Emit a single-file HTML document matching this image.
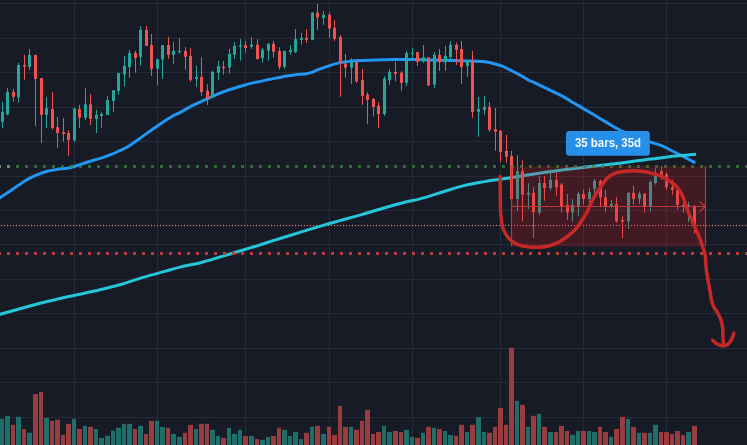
<!DOCTYPE html><html><head><meta charset="utf-8"><style>html,body{margin:0;padding:0;background:#171b26;overflow:hidden}svg{display:block}</style></head><body><svg width="747" height="445" viewBox="0 0 747 445">
<g style="filter:blur(0.35px)">
<rect x="-6" y="-6" width="759" height="457" fill="#171b26"/>
<g fill="#272b37"><rect x="-6" y="3" width="759" height="1"/><rect x="-6" y="38" width="759" height="1"/><rect x="-6" y="72" width="759" height="1"/><rect x="-6" y="107" width="759" height="1"/><rect x="-6" y="141" width="759" height="1"/><rect x="-6" y="176" width="759" height="1"/><rect x="-6" y="210" width="759" height="1"/><rect x="-6" y="244" width="759" height="1"/><rect x="-6" y="279" width="759" height="1"/><rect x="-6" y="313" width="759" height="1"/><rect x="-6" y="348" width="759" height="1"/><rect x="-6" y="382" width="759" height="1"/><rect x="-6" y="417" width="759" height="1"/><rect x="74" y="-6" width="1" height="457"/><rect x="157" y="-6" width="1" height="457"/><rect x="245" y="-6" width="1" height="457"/><rect x="329" y="-6" width="1" height="457"/><rect x="412" y="-6" width="1" height="457"/><rect x="500" y="-6" width="1" height="457"/><rect x="583" y="-6" width="1" height="457"/><rect x="666" y="-6" width="1" height="457"/></g>
<rect x="0" y="418.9" width="4" height="32.1" fill="#1f6e6a"/>
<rect x="5" y="415.8" width="5" height="35.2" fill="#1f6e6a"/>
<rect x="11" y="424.8" width="4" height="26.2" fill="#983c40"/>
<rect x="16" y="416.8" width="5" height="34.2" fill="#1f6e6a"/>
<rect x="22" y="429.0" width="4" height="22.0" fill="#983c40"/>
<rect x="27" y="432.7" width="5" height="18.3" fill="#1f6e6a"/>
<rect x="33" y="394.1" width="5" height="56.9" fill="#983c40"/>
<rect x="39" y="391.9" width="4" height="59.1" fill="#983c40"/>
<rect x="44" y="417.7" width="5" height="33.3" fill="#1f6e6a"/>
<rect x="50" y="420.9" width="4" height="30.1" fill="#983c40"/>
<rect x="55" y="419.7" width="5" height="31.3" fill="#983c40"/>
<rect x="61" y="434.9" width="4" height="16.1" fill="#983c40"/>
<rect x="66" y="423.9" width="5" height="27.1" fill="#983c40"/>
<rect x="72" y="418.9" width="4" height="32.1" fill="#1f6e6a"/>
<rect x="77" y="429.0" width="5" height="22.0" fill="#983c40"/>
<rect x="83" y="425.9" width="4" height="25.1" fill="#1f6e6a"/>
<rect x="88" y="426.9" width="5" height="24.1" fill="#983c40"/>
<rect x="94" y="429.0" width="4" height="22.0" fill="#1f6e6a"/>
<rect x="99" y="437.9" width="5" height="13.1" fill="#1f6e6a"/>
<rect x="105" y="435.7" width="5" height="15.3" fill="#1f6e6a"/>
<rect x="111" y="430.6" width="4" height="20.4" fill="#1f6e6a"/>
<rect x="116" y="427.8" width="5" height="23.2" fill="#1f6e6a"/>
<rect x="122" y="423.9" width="4" height="27.1" fill="#1f6e6a"/>
<rect x="127" y="423.9" width="5" height="27.1" fill="#1f6e6a"/>
<rect x="133" y="429.0" width="4" height="22.0" fill="#983c40"/>
<rect x="138" y="425.9" width="5" height="25.1" fill="#1f6e6a"/>
<rect x="144" y="434.0" width="4" height="17.0" fill="#983c40"/>
<rect x="149" y="420.9" width="5" height="30.1" fill="#983c40"/>
<rect x="155" y="420.9" width="4" height="30.1" fill="#1f6e6a"/>
<rect x="160" y="426.9" width="5" height="24.1" fill="#1f6e6a"/>
<rect x="166" y="427.8" width="4" height="23.2" fill="#983c40"/>
<rect x="171" y="434.0" width="5" height="17.0" fill="#1f6e6a"/>
<rect x="177" y="436.9" width="5" height="14.1" fill="#1f6e6a"/>
<rect x="183" y="432.8" width="4" height="18.2" fill="#983c40"/>
<rect x="188" y="424.9" width="5" height="26.1" fill="#983c40"/>
<rect x="194" y="429.0" width="4" height="22.0" fill="#1f6e6a"/>
<rect x="199" y="423.9" width="5" height="27.1" fill="#983c40"/>
<rect x="205" y="423.9" width="4" height="27.1" fill="#983c40"/>
<rect x="210" y="429.8" width="5" height="21.2" fill="#1f6e6a"/>
<rect x="216" y="435.7" width="4" height="15.3" fill="#1f6e6a"/>
<rect x="221" y="437.9" width="5" height="13.1" fill="#983c40"/>
<rect x="227" y="427.8" width="4" height="23.2" fill="#1f6e6a"/>
<rect x="232" y="434.0" width="5" height="17.0" fill="#1f6e6a"/>
<rect x="238" y="429.8" width="4" height="21.2" fill="#1f6e6a"/>
<rect x="243" y="436.0" width="5" height="15.0" fill="#983c40"/>
<rect x="249" y="436.0" width="5" height="15.0" fill="#1f6e6a"/>
<rect x="255" y="439.1" width="4" height="11.9" fill="#983c40"/>
<rect x="260" y="439.9" width="5" height="11.1" fill="#1f6e6a"/>
<rect x="266" y="436.9" width="4" height="14.1" fill="#1f6e6a"/>
<rect x="271" y="436.0" width="5" height="15.0" fill="#983c40"/>
<rect x="277" y="427.8" width="4" height="23.2" fill="#983c40"/>
<rect x="282" y="429.8" width="5" height="21.2" fill="#1f6e6a"/>
<rect x="288" y="436.0" width="4" height="15.0" fill="#1f6e6a"/>
<rect x="293" y="432.0" width="5" height="19.0" fill="#1f6e6a"/>
<rect x="299" y="439.1" width="4" height="11.9" fill="#1f6e6a"/>
<rect x="304" y="432.8" width="5" height="18.2" fill="#983c40"/>
<rect x="310" y="426.9" width="4" height="24.1" fill="#1f6e6a"/>
<rect x="315" y="425.9" width="5" height="25.1" fill="#983c40"/>
<rect x="321" y="434.0" width="5" height="17.0" fill="#1f6e6a"/>
<rect x="327" y="426.9" width="4" height="24.1" fill="#983c40"/>
<rect x="332" y="434.9" width="5" height="16.1" fill="#983c40"/>
<rect x="338" y="405.9" width="4" height="45.1" fill="#983c40"/>
<rect x="343" y="426.9" width="5" height="24.1" fill="#983c40"/>
<rect x="349" y="426.9" width="4" height="24.1" fill="#1f6e6a"/>
<rect x="354" y="429.8" width="5" height="21.2" fill="#983c40"/>
<rect x="360" y="420.9" width="4" height="30.1" fill="#983c40"/>
<rect x="365" y="409.9" width="5" height="41.1" fill="#983c40"/>
<rect x="371" y="434.0" width="4" height="17.0" fill="#983c40"/>
<rect x="376" y="432.0" width="5" height="19.0" fill="#983c40"/>
<rect x="382" y="425.9" width="4" height="25.1" fill="#1f6e6a"/>
<rect x="387" y="432.0" width="5" height="19.0" fill="#1f6e6a"/>
<rect x="393" y="431.0" width="5" height="20.0" fill="#983c40"/>
<rect x="399" y="432.0" width="4" height="19.0" fill="#983c40"/>
<rect x="404" y="429.8" width="5" height="21.2" fill="#1f6e6a"/>
<rect x="410" y="436.9" width="4" height="14.1" fill="#1f6e6a"/>
<rect x="415" y="437.9" width="5" height="13.1" fill="#983c40"/>
<rect x="421" y="432.8" width="4" height="18.2" fill="#1f6e6a"/>
<rect x="426" y="426.9" width="5" height="24.1" fill="#983c40"/>
<rect x="432" y="427.8" width="4" height="23.2" fill="#1f6e6a"/>
<rect x="437" y="429.0" width="5" height="22.0" fill="#983c40"/>
<rect x="443" y="431.0" width="4" height="20.0" fill="#1f6e6a"/>
<rect x="448" y="434.9" width="5" height="16.1" fill="#1f6e6a"/>
<rect x="454" y="435.7" width="4" height="15.3" fill="#983c40"/>
<rect x="459" y="424.8" width="5" height="26.2" fill="#983c40"/>
<rect x="465" y="432.0" width="4" height="19.0" fill="#1f6e6a"/>
<rect x="470" y="424.8" width="5" height="26.2" fill="#983c40"/>
<rect x="476" y="417.2" width="5" height="33.8" fill="#1f6e6a"/>
<rect x="482" y="432.0" width="4" height="19.0" fill="#1f6e6a"/>
<rect x="487" y="432.8" width="5" height="18.2" fill="#983c40"/>
<rect x="493" y="426.9" width="4" height="24.1" fill="#983c40"/>
<rect x="498" y="407.9" width="5" height="43.1" fill="#983c40"/>
<rect x="504" y="424.8" width="4" height="26.2" fill="#983c40"/>
<rect x="509" y="347.8" width="5" height="103.2" fill="#983c40"/>
<rect x="515" y="400.8" width="4" height="50.2" fill="#1f6e6a"/>
<rect x="520" y="404.9" width="5" height="46.1" fill="#983c40"/>
<rect x="526" y="426.9" width="4" height="24.1" fill="#1f6e6a"/>
<rect x="531" y="415.8" width="5" height="35.2" fill="#983c40"/>
<rect x="537" y="413.8" width="4" height="37.2" fill="#1f6e6a"/>
<rect x="542" y="426.9" width="5" height="24.1" fill="#983c40"/>
<rect x="548" y="432.0" width="5" height="19.0" fill="#1f6e6a"/>
<rect x="554" y="432.0" width="4" height="19.0" fill="#983c40"/>
<rect x="559" y="425.9" width="5" height="25.1" fill="#983c40"/>
<rect x="565" y="431.0" width="4" height="20.0" fill="#983c40"/>
<rect x="570" y="434.9" width="5" height="16.1" fill="#1f6e6a"/>
<rect x="576" y="431.0" width="4" height="20.0" fill="#1f6e6a"/>
<rect x="581" y="431.0" width="5" height="20.0" fill="#983c40"/>
<rect x="587" y="431.0" width="4" height="20.0" fill="#1f6e6a"/>
<rect x="592" y="432.0" width="5" height="19.0" fill="#1f6e6a"/>
<rect x="598" y="426.9" width="4" height="24.1" fill="#983c40"/>
<rect x="603" y="432.0" width="5" height="19.0" fill="#983c40"/>
<rect x="609" y="436.9" width="4" height="14.1" fill="#1f6e6a"/>
<rect x="614" y="429.0" width="5" height="22.0" fill="#983c40"/>
<rect x="620" y="416.8" width="5" height="34.2" fill="#983c40"/>
<rect x="626" y="418.9" width="4" height="32.1" fill="#1f6e6a"/>
<rect x="631" y="426.9" width="5" height="24.1" fill="#983c40"/>
<rect x="637" y="432.8" width="4" height="18.2" fill="#1f6e6a"/>
<rect x="642" y="432.8" width="5" height="18.2" fill="#983c40"/>
<rect x="648" y="432.8" width="4" height="18.2" fill="#1f6e6a"/>
<rect x="653" y="424.8" width="5" height="26.2" fill="#1f6e6a"/>
<rect x="659" y="432.0" width="4" height="19.0" fill="#983c40"/>
<rect x="664" y="432.0" width="5" height="19.0" fill="#983c40"/>
<rect x="670" y="434.0" width="4" height="17.0" fill="#983c40"/>
<rect x="675" y="431.0" width="5" height="20.0" fill="#983c40"/>
<rect x="681" y="434.9" width="4" height="16.1" fill="#983c40"/>
<rect x="686" y="432.0" width="5" height="19.0" fill="#1f6e6a"/>
<rect x="692" y="425.9" width="5" height="25.1" fill="#983c40"/>
<line x1="0" y1="225.5" x2="753" y2="225.5" stroke="rgba(190,40,50,0.07)" stroke-width="3"/>
<line x1="1" y1="225.5" x2="753" y2="225.5" stroke="#d98b87" stroke-width="1" stroke-dasharray="1 2"/>
<path d="M-3.0 199.8 C-2.5 199.5 -2.1 199.1 0.0 197.7 C2.1 196.3 6.2 193.7 9.4 191.6 C12.6 189.5 15.7 187.1 18.9 185.0 C22.0 182.9 25.2 180.6 28.3 178.9 C31.4 177.2 34.6 175.9 37.7 174.6 C40.9 173.3 44.1 172.2 47.2 171.3 C50.4 170.4 53.2 169.9 56.6 169.4 C60.0 168.9 64.5 168.7 67.4 168.2 C70.3 167.7 70.7 167.5 74.1 166.5 C77.5 165.5 83.1 163.4 87.6 162.0 C92.1 160.6 97.4 159.3 101.1 158.1 C104.8 156.9 107.2 156.0 110.0 154.9 C112.8 153.8 115.2 152.8 118.0 151.5 C120.8 150.2 123.1 149.5 126.8 147.3 C130.5 145.1 135.1 141.8 140.3 138.1 C145.5 134.4 152.4 129.2 158.0 125.4 C163.6 121.6 170.3 117.4 174.0 115.3 C177.7 113.2 177.0 114.2 180.0 112.6 C183.0 111.0 188.0 107.8 192.1 105.7 C196.2 103.6 200.2 102.0 204.3 100.2 C208.4 98.4 212.4 96.4 216.4 94.7 C220.4 93.0 224.4 91.4 228.5 90.0 C232.6 88.6 236.6 87.5 240.7 86.3 C244.8 85.1 247.9 84.1 252.8 82.9 C257.7 81.7 265.1 80.3 270.0 79.3 C274.9 78.3 278.1 77.6 282.1 76.9 C286.2 76.2 290.2 75.4 294.3 74.9 C298.4 74.4 303.6 74.1 306.4 73.7 C309.2 73.3 309.3 73.2 311.3 72.5 C313.3 71.8 315.7 70.5 318.5 69.4 C321.3 68.3 325.1 67.1 328.3 66.1 C331.6 65.0 334.4 63.9 338.0 63.1 C341.6 62.3 346.4 61.7 350.1 61.2 C353.8 60.8 355.9 60.6 360.0 60.4 C364.1 60.2 369.0 60.2 375.0 60.1 C381.0 60.0 389.5 59.7 395.8 59.6 C402.1 59.5 407.0 59.6 412.6 59.6 C418.2 59.6 423.2 59.8 429.4 59.9 C435.6 60.0 444.9 60.2 450.0 60.4 C455.1 60.5 454.9 60.6 460.3 60.8 C465.7 61.0 476.9 61.0 482.2 61.4 C487.5 61.8 488.9 62.4 492.3 63.2 C495.7 64.0 499.3 65.0 502.4 66.2 C505.5 67.4 508.0 69.0 510.8 70.4 C513.6 71.8 516.1 72.9 519.2 74.6 C522.3 76.3 526.8 79.2 529.3 80.5 C531.8 81.8 530.9 81.0 533.9 82.4 C536.9 83.8 542.9 86.7 547.4 88.9 C551.9 91.1 556.4 93.0 560.9 95.4 C565.4 97.8 571.1 101.4 574.3 103.3 C577.5 105.2 577.3 105.0 580.0 106.6 C582.7 108.2 585.9 110.1 590.5 112.8 C595.1 115.5 602.3 120.0 607.4 122.9 C612.5 125.9 613.8 127.3 620.9 130.5 C628.0 133.7 643.0 139.3 649.8 141.8 C656.6 144.3 657.9 144.1 661.6 145.6 C665.4 147.1 668.7 149.2 672.3 151.0 C675.9 152.8 679.3 154.4 683.1 156.4 C686.9 158.4 693.3 161.8 695.3 162.9" fill="none" stroke="#2196f3" stroke-width="3" stroke-linecap="butt" stroke-linejoin="round"/>
<path d="M-3.0 315.3 C-2.5 315.1 -5.0 315.8 0.0 314.4 C5.0 313.0 18.0 309.1 27.0 306.7 C36.0 304.3 45.9 301.9 53.9 300.0 C61.9 298.1 67.1 297.0 74.8 295.3 C82.5 293.6 92.2 291.6 100.0 289.8 C107.8 288.0 114.4 286.4 121.6 284.3 C128.8 282.2 135.9 279.5 143.1 277.4 C150.3 275.2 158.5 273.1 164.7 271.4 C170.8 269.7 173.8 268.6 180.0 267.1 C186.2 265.6 193.9 264.4 202.2 262.2 C210.5 260.0 222.0 256.4 230.0 254.0 C238.0 251.6 245.0 249.4 250.0 247.9 C255.0 246.4 254.7 246.6 260.0 244.9 C265.3 243.2 274.4 240.2 281.6 238.0 C288.8 235.8 295.9 233.6 303.1 231.4 C310.3 229.2 318.6 226.7 324.7 224.9 C330.8 223.1 333.9 222.3 340.0 220.6 C346.1 218.9 354.4 216.7 361.6 214.6 C368.8 212.5 375.9 210.2 383.1 208.2 C390.3 206.1 398.6 203.9 404.7 202.3 C410.8 200.8 413.9 200.6 420.0 198.9 C426.1 197.2 434.4 194.5 441.6 192.3 C448.8 190.1 455.9 187.7 463.1 185.9 C470.3 184.1 478.8 182.7 484.7 181.6 C490.6 180.5 493.6 180.2 498.7 179.4 C503.8 178.6 508.3 178.1 515.3 177.0 C522.3 175.9 532.1 174.1 540.5 172.9 C548.9 171.7 557.4 170.7 565.8 169.6 C574.2 168.5 585.3 167.2 591.0 166.5 C596.7 165.8 592.9 166.5 600.0 165.6 C607.1 164.7 622.5 162.8 633.7 161.3 C644.9 159.9 657.0 158.1 667.4 156.9 C677.8 155.7 691.2 154.7 696.0 154.3" fill="none" stroke="#26c6da" stroke-width="3" stroke-linecap="butt" stroke-linejoin="round"/>
<rect x="2" y="102.1" width="1" height="25.8" fill="#26a69a"/>
<rect x="1" y="111.9" width="3" height="9.8" fill="#26a69a"/>
<rect x="7" y="88.1" width="1" height="27.2" fill="#26a69a"/>
<rect x="6" y="92.0" width="3" height="22.4" fill="#26a69a"/>
<rect x="13" y="89.0" width="1" height="12.7" fill="#ef5350"/>
<rect x="12" y="92.0" width="3" height="4.9" fill="#ef5350"/>
<rect x="18" y="62.9" width="1" height="39.6" fill="#26a69a"/>
<rect x="17" y="64.9" width="3" height="32.4" fill="#26a69a"/>
<rect x="24" y="54.9" width="1" height="24.8" fill="#ef5350"/>
<rect x="23" y="65.0" width="3" height="1.7" fill="#ef5350"/>
<rect x="29" y="48.9" width="1" height="21.0" fill="#26a69a"/>
<rect x="28" y="54.9" width="3" height="12.1" fill="#26a69a"/>
<rect x="35" y="54.9" width="1" height="71.0" fill="#ef5350"/>
<rect x="34" y="54.9" width="3" height="24.0" fill="#ef5350"/>
<rect x="41" y="78.0" width="1" height="65.1" fill="#ef5350"/>
<rect x="40" y="78.0" width="3" height="36.9" fill="#ef5350"/>
<rect x="46" y="97.1" width="1" height="30.8" fill="#26a69a"/>
<rect x="45" y="108.2" width="3" height="6.7" fill="#26a69a"/>
<rect x="52" y="92.0" width="1" height="37.6" fill="#ef5350"/>
<rect x="51" y="108.9" width="3" height="19.0" fill="#ef5350"/>
<rect x="57" y="117.0" width="1" height="31.1" fill="#ef5350"/>
<rect x="56" y="127.1" width="3" height="5.9" fill="#ef5350"/>
<rect x="63" y="118.1" width="1" height="23.6" fill="#ef5350"/>
<rect x="62" y="132.1" width="3" height="2.0" fill="#ef5350"/>
<rect x="68" y="130.1" width="1" height="25.6" fill="#ef5350"/>
<rect x="67" y="133.0" width="3" height="7.0" fill="#ef5350"/>
<rect x="74" y="107.7" width="1" height="34.2" fill="#26a69a"/>
<rect x="73" y="108.5" width="3" height="31.7" fill="#26a69a"/>
<rect x="79" y="104.8" width="1" height="23.1" fill="#ef5350"/>
<rect x="78" y="109.0" width="3" height="8.8" fill="#ef5350"/>
<rect x="85" y="88.1" width="1" height="31.9" fill="#26a69a"/>
<rect x="84" y="104.3" width="3" height="13.5" fill="#26a69a"/>
<rect x="90" y="94.2" width="1" height="30.8" fill="#ef5350"/>
<rect x="89" y="104.3" width="3" height="14.7" fill="#ef5350"/>
<rect x="96" y="109.9" width="1" height="23.1" fill="#26a69a"/>
<rect x="95" y="114.9" width="3" height="4.1" fill="#26a69a"/>
<rect x="101" y="111.9" width="1" height="15.7" fill="#26a69a"/>
<rect x="100" y="114.0" width="3" height="2.0" fill="#26a69a"/>
<rect x="107" y="96.1" width="1" height="18.8" fill="#26a69a"/>
<rect x="106" y="100.0" width="3" height="14.9" fill="#26a69a"/>
<rect x="113" y="90.2" width="1" height="21.7" fill="#26a69a"/>
<rect x="112" y="90.2" width="3" height="10.8" fill="#26a69a"/>
<rect x="118" y="73.0" width="1" height="21.9" fill="#26a69a"/>
<rect x="117" y="73.1" width="3" height="17.9" fill="#26a69a"/>
<rect x="124" y="55.9" width="1" height="30.6" fill="#26a69a"/>
<rect x="123" y="66.0" width="3" height="8.5" fill="#26a69a"/>
<rect x="129" y="50.0" width="1" height="27.7" fill="#26a69a"/>
<rect x="128" y="52.9" width="3" height="14.1" fill="#26a69a"/>
<rect x="135" y="50.9" width="1" height="21.8" fill="#ef5350"/>
<rect x="134" y="52.9" width="3" height="5.1" fill="#ef5350"/>
<rect x="140" y="26.0" width="1" height="39.7" fill="#26a69a"/>
<rect x="139" y="29.8" width="3" height="27.0" fill="#26a69a"/>
<rect x="146" y="26.0" width="1" height="19.8" fill="#ef5350"/>
<rect x="145" y="29.8" width="3" height="16.0" fill="#ef5350"/>
<rect x="151" y="34.0" width="1" height="41.8" fill="#ef5350"/>
<rect x="150" y="45.0" width="3" height="23.9" fill="#ef5350"/>
<rect x="157" y="58.8" width="1" height="26.0" fill="#26a69a"/>
<rect x="156" y="59.1" width="3" height="9.6" fill="#26a69a"/>
<rect x="162" y="45.0" width="1" height="33.8" fill="#26a69a"/>
<rect x="161" y="45.0" width="3" height="14.6" fill="#26a69a"/>
<rect x="168" y="36.9" width="1" height="21.9" fill="#ef5350"/>
<rect x="167" y="45.0" width="3" height="9.9" fill="#ef5350"/>
<rect x="173" y="42.0" width="1" height="21.8" fill="#26a69a"/>
<rect x="172" y="50.9" width="3" height="4.0" fill="#26a69a"/>
<rect x="179" y="38.1" width="1" height="15.6" fill="#26a69a"/>
<rect x="178" y="50.9" width="3" height="1.2" fill="#26a69a"/>
<rect x="185" y="47.0" width="1" height="22.8" fill="#ef5350"/>
<rect x="184" y="50.9" width="3" height="5.9" fill="#ef5350"/>
<rect x="190" y="47.9" width="1" height="33.8" fill="#ef5350"/>
<rect x="189" y="55.9" width="3" height="24.0" fill="#ef5350"/>
<rect x="196" y="65.9" width="1" height="20.9" fill="#26a69a"/>
<rect x="195" y="76.9" width="3" height="2.1" fill="#26a69a"/>
<rect x="201" y="57.1" width="1" height="38.8" fill="#ef5350"/>
<rect x="200" y="76.9" width="3" height="15.1" fill="#ef5350"/>
<rect x="207" y="84.1" width="1" height="20.9" fill="#ef5350"/>
<rect x="206" y="90.8" width="3" height="7.9" fill="#ef5350"/>
<rect x="212" y="71.0" width="1" height="26.9" fill="#26a69a"/>
<rect x="211" y="71.8" width="3" height="24.4" fill="#26a69a"/>
<rect x="218" y="60.9" width="1" height="18.8" fill="#26a69a"/>
<rect x="217" y="66.1" width="3" height="6.5" fill="#26a69a"/>
<rect x="223" y="60.9" width="1" height="13.7" fill="#ef5350"/>
<rect x="222" y="66.8" width="3" height="1.4" fill="#ef5350"/>
<rect x="229" y="48.9" width="1" height="24.6" fill="#26a69a"/>
<rect x="228" y="53.9" width="3" height="13.6" fill="#26a69a"/>
<rect x="234" y="42.1" width="1" height="16.9" fill="#26a69a"/>
<rect x="233" y="45.8" width="3" height="9.0" fill="#26a69a"/>
<rect x="240" y="39.1" width="1" height="21.5" fill="#26a69a"/>
<rect x="239" y="45.5" width="3" height="1.3" fill="#26a69a"/>
<rect x="245" y="40.9" width="1" height="11.8" fill="#ef5350"/>
<rect x="244" y="45.1" width="3" height="2.9" fill="#ef5350"/>
<rect x="251" y="37.1" width="1" height="11.8" fill="#26a69a"/>
<rect x="250" y="44.6" width="3" height="2.2" fill="#26a69a"/>
<rect x="257" y="39.1" width="1" height="20.7" fill="#ef5350"/>
<rect x="256" y="44.6" width="3" height="14.4" fill="#ef5350"/>
<rect x="262" y="48.0" width="1" height="14.7" fill="#26a69a"/>
<rect x="261" y="49.7" width="3" height="8.4" fill="#26a69a"/>
<rect x="268" y="43.0" width="1" height="17.6" fill="#26a69a"/>
<rect x="267" y="43.8" width="3" height="7.1" fill="#26a69a"/>
<rect x="273" y="40.9" width="1" height="16.9" fill="#ef5350"/>
<rect x="272" y="43.8" width="3" height="8.1" fill="#ef5350"/>
<rect x="279" y="47.2" width="1" height="22.4" fill="#ef5350"/>
<rect x="278" y="50.9" width="3" height="16.0" fill="#ef5350"/>
<rect x="284" y="50.9" width="1" height="17.8" fill="#26a69a"/>
<rect x="283" y="50.9" width="3" height="16.0" fill="#26a69a"/>
<rect x="290" y="45.0" width="1" height="9.8" fill="#26a69a"/>
<rect x="289" y="50.0" width="3" height="2.2" fill="#26a69a"/>
<rect x="295" y="29.0" width="1" height="24.0" fill="#26a69a"/>
<rect x="294" y="39.1" width="3" height="12.8" fill="#26a69a"/>
<rect x="301" y="32.9" width="1" height="11.7" fill="#26a69a"/>
<rect x="300" y="37.9" width="3" height="2.0" fill="#26a69a"/>
<rect x="306" y="29.0" width="1" height="14.0" fill="#ef5350"/>
<rect x="305" y="37.9" width="3" height="2.0" fill="#ef5350"/>
<rect x="312" y="12.0" width="1" height="28.2" fill="#26a69a"/>
<rect x="311" y="12.6" width="3" height="27.3" fill="#26a69a"/>
<rect x="317" y="3.7" width="1" height="26.3" fill="#ef5350"/>
<rect x="316" y="12.8" width="3" height="4.7" fill="#ef5350"/>
<rect x="323" y="10.9" width="1" height="14.0" fill="#26a69a"/>
<rect x="322" y="14.8" width="3" height="3.2" fill="#26a69a"/>
<rect x="329" y="12.6" width="1" height="25.3" fill="#ef5350"/>
<rect x="328" y="14.8" width="3" height="13.8" fill="#ef5350"/>
<rect x="334" y="19.9" width="1" height="21.0" fill="#ef5350"/>
<rect x="333" y="27.8" width="3" height="10.9" fill="#ef5350"/>
<rect x="340" y="35.0" width="1" height="61.8" fill="#ef5350"/>
<rect x="339" y="37.1" width="3" height="26.3" fill="#ef5350"/>
<rect x="345" y="54.0" width="1" height="23.8" fill="#ef5350"/>
<rect x="344" y="63.6" width="3" height="4.0" fill="#ef5350"/>
<rect x="351" y="58.1" width="1" height="25.6" fill="#26a69a"/>
<rect x="350" y="61.9" width="3" height="5.7" fill="#26a69a"/>
<rect x="356" y="61.9" width="1" height="21.0" fill="#ef5350"/>
<rect x="355" y="61.9" width="3" height="19.3" fill="#ef5350"/>
<rect x="362" y="68.9" width="1" height="35.9" fill="#ef5350"/>
<rect x="361" y="80.0" width="3" height="15.8" fill="#ef5350"/>
<rect x="367" y="92.1" width="1" height="31.7" fill="#ef5350"/>
<rect x="366" y="94.6" width="3" height="5.1" fill="#ef5350"/>
<rect x="373" y="98.0" width="1" height="18.6" fill="#ef5350"/>
<rect x="372" y="98.9" width="3" height="8.1" fill="#ef5350"/>
<rect x="378" y="102.2" width="1" height="25.6" fill="#ef5350"/>
<rect x="377" y="105.7" width="3" height="8.4" fill="#ef5350"/>
<rect x="384" y="76.1" width="1" height="39.9" fill="#26a69a"/>
<rect x="383" y="78.6" width="3" height="35.4" fill="#26a69a"/>
<rect x="389" y="69.0" width="1" height="15.9" fill="#26a69a"/>
<rect x="388" y="71.9" width="3" height="8.4" fill="#26a69a"/>
<rect x="395" y="61.8" width="1" height="19.4" fill="#ef5350"/>
<rect x="394" y="71.9" width="3" height="2.0" fill="#ef5350"/>
<rect x="401" y="71.1" width="1" height="19.8" fill="#ef5350"/>
<rect x="400" y="72.7" width="3" height="10.2" fill="#ef5350"/>
<rect x="406" y="51.0" width="1" height="34.9" fill="#26a69a"/>
<rect x="405" y="53.0" width="3" height="29.9" fill="#26a69a"/>
<rect x="412" y="48.0" width="1" height="9.6" fill="#26a69a"/>
<rect x="411" y="52.7" width="3" height="1.2" fill="#26a69a"/>
<rect x="417" y="51.9" width="1" height="14.1" fill="#ef5350"/>
<rect x="416" y="52.2" width="3" height="9.5" fill="#ef5350"/>
<rect x="423" y="45.0" width="1" height="17.7" fill="#26a69a"/>
<rect x="422" y="57.3" width="3" height="4.2" fill="#26a69a"/>
<rect x="428" y="57.3" width="1" height="28.6" fill="#ef5350"/>
<rect x="427" y="57.3" width="3" height="28.1" fill="#ef5350"/>
<rect x="434" y="52.2" width="1" height="35.7" fill="#26a69a"/>
<rect x="433" y="54.8" width="3" height="29.8" fill="#26a69a"/>
<rect x="439" y="49.0" width="1" height="21.9" fill="#ef5350"/>
<rect x="438" y="54.9" width="3" height="7.4" fill="#ef5350"/>
<rect x="445" y="46.0" width="1" height="24.9" fill="#26a69a"/>
<rect x="444" y="55.9" width="3" height="6.4" fill="#26a69a"/>
<rect x="450" y="41.0" width="1" height="18.0" fill="#26a69a"/>
<rect x="449" y="44.8" width="3" height="12.2" fill="#26a69a"/>
<rect x="456" y="42.6" width="1" height="22.4" fill="#ef5350"/>
<rect x="455" y="44.8" width="3" height="5.1" fill="#ef5350"/>
<rect x="461" y="41.0" width="1" height="42.9" fill="#ef5350"/>
<rect x="460" y="49.0" width="3" height="18.1" fill="#ef5350"/>
<rect x="467" y="59.5" width="1" height="17.3" fill="#26a69a"/>
<rect x="466" y="60.0" width="3" height="6.2" fill="#26a69a"/>
<rect x="472" y="51.1" width="1" height="66.7" fill="#ef5350"/>
<rect x="471" y="60.0" width="3" height="51.9" fill="#ef5350"/>
<rect x="478" y="97.0" width="1" height="39.8" fill="#26a69a"/>
<rect x="477" y="109.0" width="3" height="2.9" fill="#26a69a"/>
<rect x="484" y="95.9" width="1" height="19.0" fill="#26a69a"/>
<rect x="483" y="106.8" width="3" height="3.1" fill="#26a69a"/>
<rect x="489" y="102.0" width="1" height="29.8" fill="#ef5350"/>
<rect x="488" y="106.8" width="3" height="23.1" fill="#ef5350"/>
<rect x="495" y="108.0" width="1" height="42.8" fill="#ef5350"/>
<rect x="494" y="129.1" width="3" height="2.7" fill="#ef5350"/>
<rect x="500" y="130.0" width="1" height="31.8" fill="#ef5350"/>
<rect x="499" y="130.9" width="3" height="21.3" fill="#ef5350"/>
<rect x="506" y="135.0" width="1" height="27.5" fill="#ef5350"/>
<rect x="505" y="151.0" width="3" height="5.8" fill="#ef5350"/>
<rect x="511" y="151.0" width="1" height="48.0" fill="#ef5350"/>
<rect x="510" y="156.0" width="3" height="43.0" fill="#ef5350"/>
<rect x="517" y="155.2" width="1" height="55.8" fill="#26a69a"/>
<rect x="516" y="171.2" width="3" height="27.8" fill="#26a69a"/>
<rect x="522" y="160.2" width="1" height="61.0" fill="#ef5350"/>
<rect x="521" y="171.2" width="3" height="23.5" fill="#ef5350"/>
<rect x="528" y="183.0" width="1" height="26.0" fill="#26a69a"/>
<rect x="527" y="192.8" width="3" height="1.9" fill="#26a69a"/>
<rect x="533" y="187.2" width="1" height="50.8" fill="#ef5350"/>
<rect x="532" y="192.8" width="3" height="19.2" fill="#ef5350"/>
<rect x="539" y="176.2" width="1" height="38.7" fill="#26a69a"/>
<rect x="538" y="183.0" width="3" height="29.5" fill="#26a69a"/>
<rect x="544" y="176.2" width="1" height="24.6" fill="#ef5350"/>
<rect x="543" y="183.0" width="3" height="5.0" fill="#ef5350"/>
<rect x="550" y="169.5" width="1" height="21.0" fill="#26a69a"/>
<rect x="549" y="179.9" width="3" height="8.1" fill="#26a69a"/>
<rect x="556" y="172.9" width="1" height="22.7" fill="#ef5350"/>
<rect x="555" y="179.9" width="3" height="7.3" fill="#ef5350"/>
<rect x="561" y="183.0" width="1" height="29.5" fill="#ef5350"/>
<rect x="560" y="184.6" width="3" height="22.4" fill="#ef5350"/>
<rect x="567" y="194.0" width="1" height="26.0" fill="#ef5350"/>
<rect x="566" y="204.9" width="3" height="7.7" fill="#ef5350"/>
<rect x="572" y="199.2" width="1" height="22.8" fill="#26a69a"/>
<rect x="571" y="204.9" width="3" height="7.7" fill="#26a69a"/>
<rect x="578" y="192.0" width="1" height="24.1" fill="#26a69a"/>
<rect x="577" y="193.8" width="3" height="13.0" fill="#26a69a"/>
<rect x="583" y="189.7" width="1" height="15.1" fill="#ef5350"/>
<rect x="582" y="193.8" width="3" height="5.2" fill="#ef5350"/>
<rect x="589" y="188.0" width="1" height="16.8" fill="#26a69a"/>
<rect x="588" y="192.0" width="3" height="7.0" fill="#26a69a"/>
<rect x="594" y="179.1" width="1" height="16.2" fill="#26a69a"/>
<rect x="593" y="180.9" width="3" height="8.0" fill="#26a69a"/>
<rect x="600" y="179.6" width="1" height="26.4" fill="#ef5350"/>
<rect x="599" y="180.9" width="3" height="16.5" fill="#ef5350"/>
<rect x="605" y="190.0" width="1" height="21.8" fill="#ef5350"/>
<rect x="604" y="197.2" width="3" height="9.8" fill="#ef5350"/>
<rect x="611" y="200.0" width="1" height="8.6" fill="#26a69a"/>
<rect x="610" y="204.0" width="3" height="1.9" fill="#26a69a"/>
<rect x="616" y="197.2" width="1" height="25.7" fill="#ef5350"/>
<rect x="615" y="204.0" width="3" height="17.2" fill="#ef5350"/>
<rect x="622" y="216.1" width="1" height="21.9" fill="#ef5350"/>
<rect x="621" y="220.0" width="3" height="1.7" fill="#ef5350"/>
<rect x="628" y="192.5" width="1" height="36.2" fill="#26a69a"/>
<rect x="627" y="192.8" width="3" height="28.4" fill="#26a69a"/>
<rect x="633" y="185.8" width="1" height="19.0" fill="#ef5350"/>
<rect x="632" y="192.8" width="3" height="6.2" fill="#ef5350"/>
<rect x="639" y="191.4" width="1" height="12.6" fill="#26a69a"/>
<rect x="638" y="193.8" width="3" height="5.2" fill="#26a69a"/>
<rect x="644" y="193.0" width="1" height="19.5" fill="#ef5350"/>
<rect x="643" y="193.8" width="3" height="13.2" fill="#ef5350"/>
<rect x="650" y="180.4" width="1" height="31.4" fill="#26a69a"/>
<rect x="649" y="182.1" width="3" height="24.1" fill="#26a69a"/>
<rect x="655" y="168.3" width="1" height="16.3" fill="#26a69a"/>
<rect x="654" y="175.9" width="3" height="7.1" fill="#26a69a"/>
<rect x="661" y="166.1" width="1" height="13.5" fill="#ef5350"/>
<rect x="660" y="171.2" width="3" height="3.3" fill="#ef5350"/>
<rect x="666" y="172.0" width="1" height="17.7" fill="#ef5350"/>
<rect x="665" y="174.5" width="3" height="12.7" fill="#ef5350"/>
<rect x="672" y="179.6" width="1" height="15.2" fill="#ef5350"/>
<rect x="671" y="187.2" width="3" height="2.8" fill="#ef5350"/>
<rect x="677" y="189.0" width="1" height="20.5" fill="#ef5350"/>
<rect x="676" y="189.7" width="3" height="15.1" fill="#ef5350"/>
<rect x="683" y="203.2" width="1" height="9.5" fill="#ef5350"/>
<rect x="682" y="204.8" width="3" height="1.7" fill="#ef5350"/>
<rect x="688" y="201.9" width="1" height="20.1" fill="#26a69a"/>
<rect x="687" y="205.0" width="3" height="2.0" fill="#26a69a"/>
<rect x="694" y="204.8" width="1" height="29.0" fill="#ef5350"/>
<rect x="693" y="206.2" width="3" height="20.0" fill="#ef5350"/>
<line x1="-2" y1="166.5" x2="753" y2="166.5" stroke="rgba(56,142,60,0.7)" stroke-width="3" stroke-dasharray="3 6"/>
<rect x="-2" y="165" width="3" height="3" fill="#6d8d72"/><rect x="7" y="165" width="3" height="3" fill="#668a6b"/>
<line x1="-2" y1="253.5" x2="753" y2="253.5" stroke="#c23a38" stroke-width="3" stroke-dasharray="3 6"/>
<rect x="511.5" y="166" width="194" height="80.5" fill="rgba(225,25,32,0.22)"/>
<path d="M511.5 165.7V246.5M705.5 165.7V246.5M511.5 206.5H705.5M699.5 201.5L705.5 206.5L699.5 211.5" fill="none" stroke="#bd373b" stroke-width="1.15"/>
<path d="M500.2 176.6 C500.2 178.8 500.3 185.3 500.3 190.0 C500.3 194.7 500.3 200.7 500.4 205.0 C500.5 209.3 500.5 212.2 500.9 215.8 C501.2 219.4 501.7 223.6 502.5 226.6 C503.3 229.6 504.4 231.8 505.8 234.1 C507.2 236.4 509.0 238.8 511.2 240.6 C513.4 242.4 516.0 243.9 518.7 244.9 C521.4 245.9 524.1 246.4 527.3 246.8 C530.5 247.2 534.5 247.4 538.1 247.3 C541.7 247.2 545.7 246.8 548.9 246.0 C552.1 245.2 554.6 244.1 557.5 242.7 C560.4 241.2 563.3 239.5 566.2 237.3 C569.1 235.2 572.6 232.3 575.0 229.8 C577.4 227.3 578.6 225.3 580.5 222.5 C582.4 219.7 584.2 217.2 586.5 213.0 C588.8 208.8 591.5 201.9 594.0 197.3 C596.5 192.7 599.3 188.8 601.6 185.5 C603.9 182.2 605.7 179.5 608.0 177.4 C610.3 175.3 612.7 174.1 615.6 173.1 C618.5 172.1 621.9 171.7 625.3 171.3 C628.7 170.9 632.5 170.8 636.1 170.9 C639.7 171.0 644.3 171.5 646.8 171.9 C649.2 172.3 648.3 172.4 650.8 173.1 C653.3 173.8 658.4 175.0 661.6 176.3 C664.8 177.7 667.7 179.5 670.2 181.2 C672.7 182.9 674.7 184.4 676.7 186.6 C678.7 188.8 680.6 191.6 682.0 194.5 C683.4 197.4 684.5 201.7 685.3 204.0 C686.1 206.3 686.1 206.4 686.8 208.2 C687.5 210.0 688.6 212.8 689.5 215.0 C690.4 217.2 691.1 218.7 692.3 221.3 C693.4 223.9 695.0 227.3 696.4 230.4 C697.8 233.5 699.3 237.2 700.4 240.0 C701.5 242.8 702.0 244.7 702.8 247.3 C703.6 249.9 704.8 252.4 705.3 255.7 C705.8 259.0 705.5 262.4 706.0 267.0 C706.5 271.6 707.8 279.1 708.5 283.1 C709.2 287.1 709.5 288.4 710.0 291.0 C710.5 293.6 710.6 296.3 711.2 298.8 C711.8 301.3 712.4 303.9 713.4 306.1 C714.4 308.3 715.8 309.7 717.0 311.9 C718.2 314.1 719.8 316.8 720.7 319.2 C721.6 321.6 722.1 324.1 722.5 326.5 C722.9 328.9 722.8 330.7 722.9 333.9 C723.0 337.1 723.2 343.7 723.3 345.6" fill="none" stroke="#c62828" stroke-width="3.5" stroke-linecap="round" stroke-linejoin="round"/>
<path d="M712.7 340.4 C713.3 340.9 714.8 342.5 716.3 343.4 C717.8 344.3 719.8 345.3 721.4 345.6 C723.0 345.9 724.4 345.8 725.8 345.3 C727.1 344.8 728.4 343.9 729.5 342.6 C730.6 341.3 731.7 339.0 732.4 337.5 C733.1 336.0 733.6 334.1 733.9 333.4" fill="none" stroke="#c62828" stroke-width="3.5" stroke-linecap="round" stroke-linejoin="round"/>
<rect x="566" y="131" width="83.8" height="24.8" rx="3" fill="#258fea"/>
<text x="575" y="146.6" textLength="66" lengthAdjust="spacingAndGlyphs" font-family="Liberation Sans, sans-serif" font-weight="bold" font-size="12" fill="#f4f9ff">35 bars, 35d</text>
</g></svg></body></html>
